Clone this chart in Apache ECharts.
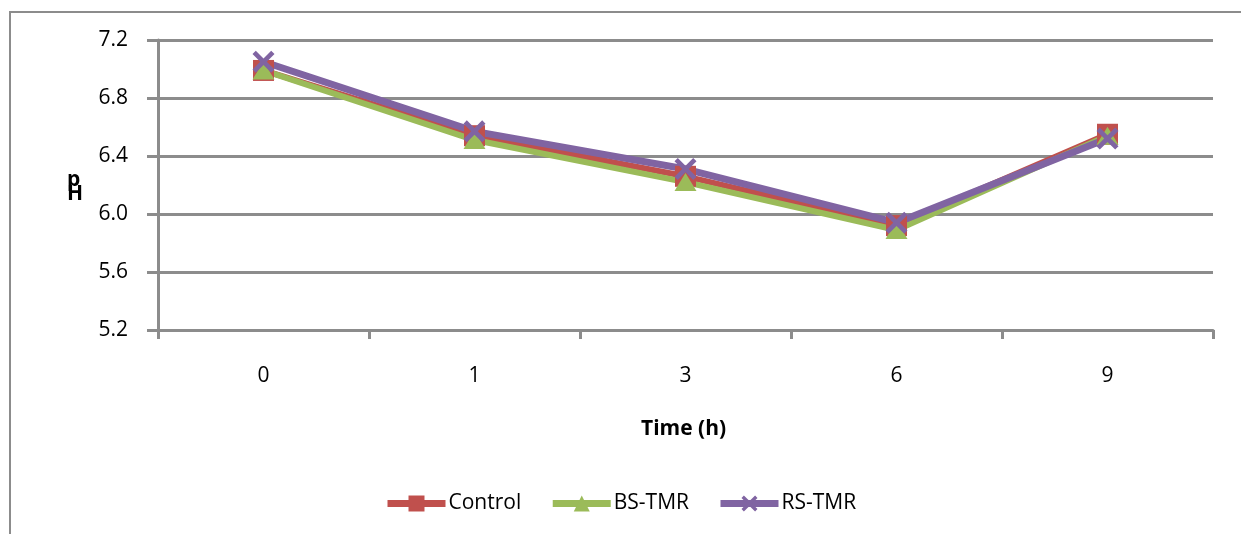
<!DOCTYPE html>
<html>
<head>
<meta charset="utf-8">
<script src="https://cdn.jsdelivr.net/npm/echarts@6/dist/echarts.min.js"></script>
<style>html,body{margin:0;padding:0;background:#fff;}#c{width:1241px;height:534px;}</style>
</head>
<body>
<div id="c"></div>
<script>
const categories = ['0', '1', '3', '6', '9'];
const controlValues = [6.99, 6.54, 6.26, 5.92, 6.55];
const bsTmrValues = [6.99, 6.51, 6.22, 5.89, 6.54];
const rsTmrValues = [7.05, 6.57, 6.31, 5.94, 6.52];
const yTicks = { min: 5.2, max: 7.2, interval: 0.4 };

const FONT = '"Open Sans", "Noto Sans", sans-serif';
const xPath = 'path://M0,3 L3,0 L10,7 L17,0 L20,3 L13,10 L20,17 L17,20 L10,13 L3,20 L0,17 L7,10 Z';

const chart = echarts.init(document.getElementById('c'));
chart.setOption({
  animation: false,
  backgroundColor: '#fff',
  grid: { left: 158, right: 28, top: 40, bottom: 204 },
  graphic: [
    { type: 'rect', shape: { x: 10, y: 12, width: 1250, height: 540 }, style: { fill: 'none', stroke: '#8c8c8c', lineWidth: 2 } },
    { type: 'text', left: 67, top: 170, style: { text: 'p\nH', font: 'bold 21px ' + FONT, fill: '#000', lineHeight: 14 } },
    { type: 'text', left: 641, top: 419, style: { text: 'Time (h)', font: 'bold 21px ' + FONT, fill: '#000' } }
  ],
  legend: {
    top: 488, left: 379,
    itemWidth: 58, itemHeight: 20, itemGap: 28,
    lineStyle: { width: 7 },
    textStyle: { fontFamily: FONT, fontSize: 21, color: '#000', padding: [0, 0, 0, -2] },
    data: ['Control', 'BS-TMR', 'RS-TMR']
  },
  xAxis: {
    type: 'category', data: categories, boundaryGap: true,
    axisLine: { lineStyle: { color: '#8c8c8c', width: 3 } },
    axisTick: { show: true, length: 9, lineStyle: { color: '#8c8c8c', width: 3 } },
    axisLabel: { margin: 36, fontFamily: FONT, fontSize: 21, color: '#000' },
    splitLine: { show: false }
  },
  yAxis: {
    type: 'value', min: yTicks.min, max: yTicks.max, interval: yTicks.interval,
    axisLine: { show: true, lineStyle: { color: '#8c8c8c', width: 3 } },
    axisTick: { show: true, length: 11, lineStyle: { color: '#8c8c8c', width: 3 } },
    axisLabel: { margin: 30, fontFamily: FONT, fontSize: 21, color: '#000', formatter: v => v.toFixed(1) },
    splitLine: { show: true, lineStyle: { color: '#8c8c8c', width: 3 } }
  },
  series: [
    { name: 'Control', type: 'line', data: controlValues, symbol: 'rect', symbolSize: 21,
      itemStyle: { color: '#C0504D' }, lineStyle: { color: '#C0504D', width: 6 } },
    { name: 'BS-TMR', type: 'line', data: bsTmrValues, symbol: 'triangle', symbolSize: [22, 18],
      itemStyle: { color: '#9BBB59' }, lineStyle: { color: '#9BBB59', width: 6 } },
    { name: 'RS-TMR', type: 'line', data: rsTmrValues, symbol: xPath, symbolSize: 22,
      itemStyle: { color: '#8064A2' }, lineStyle: { color: '#8064A2', width: 7 } }
  ]
});
</script>
</body>
</html>
